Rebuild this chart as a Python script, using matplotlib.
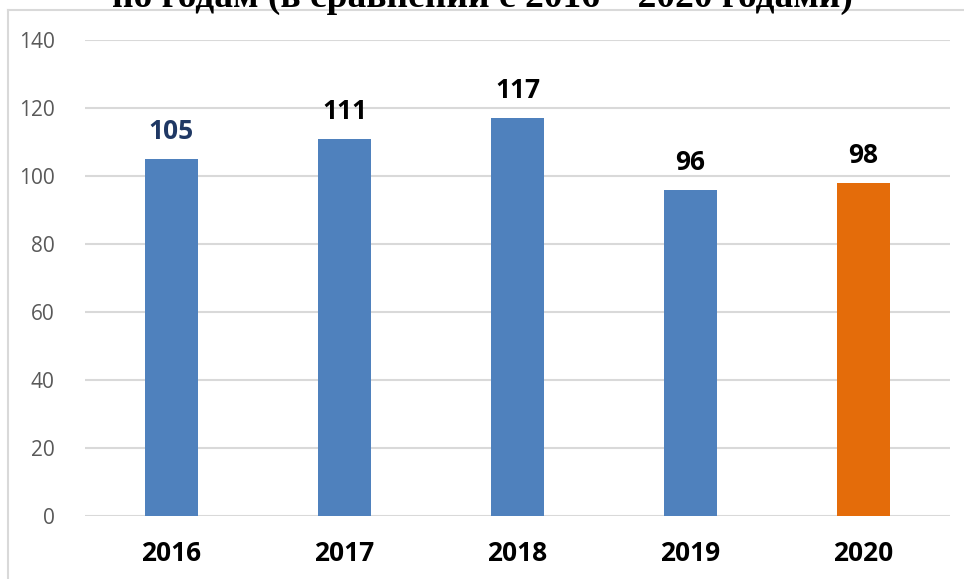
import matplotlib
matplotlib.use('Agg')
import matplotlib.pyplot as plt
from matplotlib.lines import Line2D

# data
years = ['2016', '2017', '2018', '2019', '2020']
values = [105, 111, 117, 96, 98]
bar_colors = ['#4F81BD', '#4F81BD', '#4F81BD', '#4F81BD', '#E46C0A']
label_colors = ['#1F3864', 'black', 'black', 'black', 'black']
yticks = [0, 20, 40, 60, 80, 100, 120, 140]
title = "по годам (в сравнении с 2016 – 2020 годами)"

W, H = 964, 579
fig = plt.figure(figsize=(W / 100, H / 100), dpi=100)
fig.set_facecolor('white')

# outer frame of the chart area (cut off at the right and bottom)
grey = '#D9D9D9'
fig.add_artist(Line2D([8 / W, 8 / W], [1 - 10 / H, 0], transform=fig.transFigure, color=grey, lw=1.5))
fig.add_artist(Line2D([8 / W, 1], [1 - 10 / H, 1 - 10 / H], transform=fig.transFigure, color=grey, lw=1.5))

# title, partly cut off at the top like in the source
fig.text(0.5, 1 - 7 / H, title, ha='center', va='baseline', fontsize=27,
         family='Liberation Serif', weight='bold', color='black')

ax = fig.add_axes([85 / W, 1 - 516 / H, (950 - 85) / W, (516 - 40) / H])
x = range(len(years))
ax.bar(x, values, width=0.31, color=bar_colors, zorder=3)
ax.set_xlim(-0.5, len(years) - 0.5)
ax.set_ylim(0, 140)
ax.set_yticks(yticks)
ax.grid(axis='y', color=grey, lw=1.5, zorder=0)
for s in ax.spines.values():
    s.set_visible(False)
ax.tick_params(axis='y', length=0, pad=22, labelsize=15, labelcolor='#595959')
ax.tick_params(axis='x', length=0, pad=17)
for lab in ax.get_yticklabels():
    lab.set_family('Open Sans')
ax.set_xticks(list(x))
ax.set_xticklabels(years, fontsize=19, weight='bold', family='Open Sans', color='black')

for i, v in enumerate(values):
    ax.annotate(str(v), (i, v), xytext=(0, 10), textcoords='offset points',
                ha='center', va='bottom', fontsize=19, weight='bold',
                family='Open Sans', color=label_colors[i])

fig.savefig('out.png', dpi=100)
